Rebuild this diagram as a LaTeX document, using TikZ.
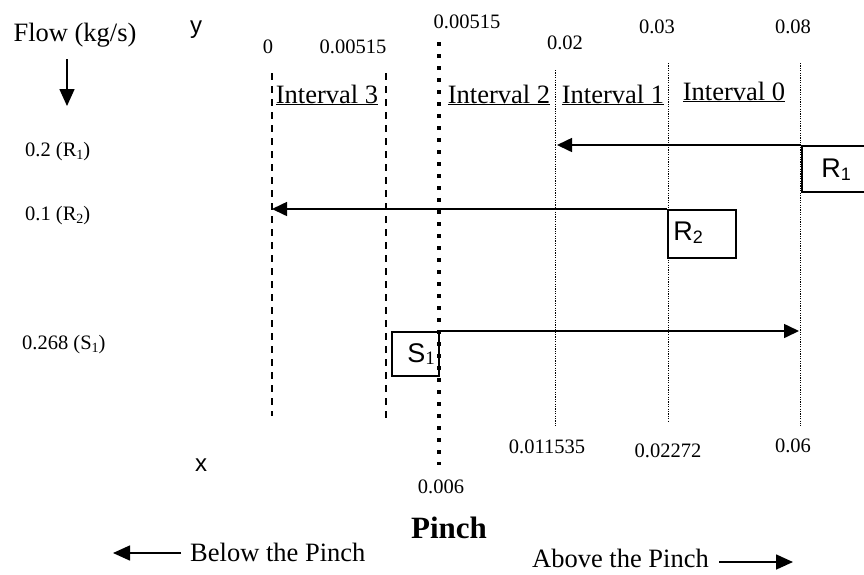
\documentclass[tikz,border=0pt]{standalone}
\usepackage{fontspec}
\setmainfont{Liberation Serif}
\newfontfamily\arialfont{Liberation Sans}
\usetikzlibrary{arrows.meta}

\newcommand{\fs}[1]{\fontsize{#1}{#1}\selectfont}
\newcommand{\sub}[1]{\raisebox{-0.25ex}{\fs{14}#1}}

\tikzset{
  numlbl/.style={font=\fs{20.5}, inner sep=0pt},
  flowlbl/.style={font=\fs{20.5}, inner sep=0pt, anchor=west},
  intlbl/.style={font=\fs{26.5}, inner sep=0pt, anchor=base},
  sanslbl/.style={font=\arialfont\fs{24}, inner sep=0pt},
  boxlbl/.style={font=\arialfont\fs{27}, inner sep=0pt},
  streambox/.style={draw, line width=1.7pt, inner sep=0pt, anchor=north west},
  flowarrow/.style={line width=1.6pt, -{Triangle[length=15pt,width=14pt]}},
  dashline/.style={line width=1.3pt, dash pattern=on 7pt off 6pt},
  pinchline/.style={line width=4.3pt, dash pattern=on 4.3pt off 7.7pt},
  dotline/.style={line width=1pt, dash pattern=on 1.2pt off 1.2pt},
}

\begin{document}
\begin{tikzpicture}[x=1pt, y=-1pt]
  \useasboundingbox (0,0) rectangle (864,574);

  % interval boundaries
  \coordinate (b3t) at (272,73);  \coordinate (b3b) at (272,416);
  \coordinate (b2t) at (386,73);  \coordinate (b2b) at (386,423);
  \coordinate (pt)  at (439,42);  \coordinate (pb)  at (439,465);
  \coordinate (b1t) at (555,70);  \coordinate (b1b) at (555,427);
  \coordinate (b0t) at (668,63);  \coordinate (b0b) at (668,422);
  \coordinate (bet) at (800,63);  \coordinate (beb) at (800,426);

  \draw[dashline] (b3t) -- (b3b);
  \draw[dashline] (b2t) -- (b2b);
  \draw[dotline] (b1t) -- (b1b);
  \draw[dotline] (b0t) -- (b0b);
  \draw[dotline] (bet) -- (beb);

  % concentration values (top: y, bottom: x)
  \node[numlbl] (ty0)  at (268,47) {0};
  \node[numlbl] (ty1)  at (353,47) {0.00515};
  \node[numlbl] (typ)  at (467,22) {0.00515};
  \node[numlbl] (ty2)  at (565,43) {0.02};
  \node[numlbl] (ty3)  at (657,27) {0.03};
  \node[numlbl] (ty4)  at (793,27) {0.08};
  \node[numlbl] (bx1)  at (547,447) {0.011535};
  \node[numlbl] (bx2)  at (668,451) {0.02272};
  \node[numlbl] (bx3)  at (793,446) {0.06};
  \node[numlbl] (bxp)  at (441,487) {0.006};

  % interval headings
  \node[intlbl] (i3) at (327,103) {\underline{Interval 3}};
  \node[intlbl] (i2) at (499,103) {\underline{Interval 2}};
  \node[intlbl] (i1) at (613,103) {\underline{Interval 1}};
  \node[intlbl] (i0) at (734,100) {\underline{Interval 0}};

  % axis captions
  \node[sanslbl] (ylab) at (196,30) {y};
  \node[sanslbl] (xlab) at (201,465) {x};
  \node[font=\fs{26.5}, inner sep=0pt, anchor=base] (flow) at (75,41) {Flow (kg/s)};
  \coordinate (fa1) at (67,59);
  \coordinate (fa2) at (67,106);
  \draw[line width=1.6pt, -{Triangle[length=17pt,width=15pt]}] (fa1) -- (fa2);

  % flow rates
  \node[flowlbl] (f1) at (25,152) {0.2 (R\sub{1})};
  \node[flowlbl] (f2) at (25,216) {0.1 (R\sub{2})};
  \node[flowlbl] (f3) at (22,345) {0.268 (S\sub{1})};

  % streams
  \node[streambox, minimum width=68pt, minimum height=46pt] (R1box) at (801,145) {};
  \node[streambox, minimum width=68pt, minimum height=48pt] (R2box) at (667,209) {};
  \node[streambox, minimum width=47pt, minimum height=44pt] (S1box) at (391,331) {};
  \node[boxlbl] (R1txt) at (836,170) {R{\fs{18}\raisebox{-0.35ex}{1}}};
  \node[boxlbl] (R2txt) at (688,233) {R{\fs{18}\raisebox{-0.35ex}{2}}};
  \node[boxlbl] (S1txt) at (421,354) {S{\rmfamily\fs{19}\raisebox{-0.3ex}{1}}};

  \coordinate (R1tip) at (557,145);
  \coordinate (R2tip) at (272,209);
  \coordinate (S1tip) at (799,331);
  \draw[flowarrow] (R1box.north west) -- (R1tip);
  \draw[flowarrow] (R2box.north west) -- (R2tip);
  \draw[flowarrow] (S1box.north east) -- (S1tip);

  % pinch line
  \draw[pinchline] (pt) -- (pb);

  % pinch captions
  \node[font=\bfseries\fs{31}, inner sep=0pt, anchor=base] (pinch) at (449,538) {Pinch};
  \node[font=\fs{26.5}, inner sep=0pt, anchor=base west] (below) at (190,561) {Below the Pinch};
  \node[font=\fs{26.5}, inner sep=0pt, anchor=base west] (above) at (532,567) {Above the Pinch};
  \coordinate (bl1) at (181,553);
  \coordinate (bl2) at (113,553);
  \coordinate (ab1) at (719,562);
  \coordinate (ab2) at (793,562);
  \draw[line width=1.6pt, -{Triangle[length=17pt,width=15pt]}] (bl1) -- (bl2);
  \draw[line width=1.6pt, -{Triangle[length=17pt,width=15pt]}] (ab1) -- (ab2);
\end{tikzpicture}
\end{document}
